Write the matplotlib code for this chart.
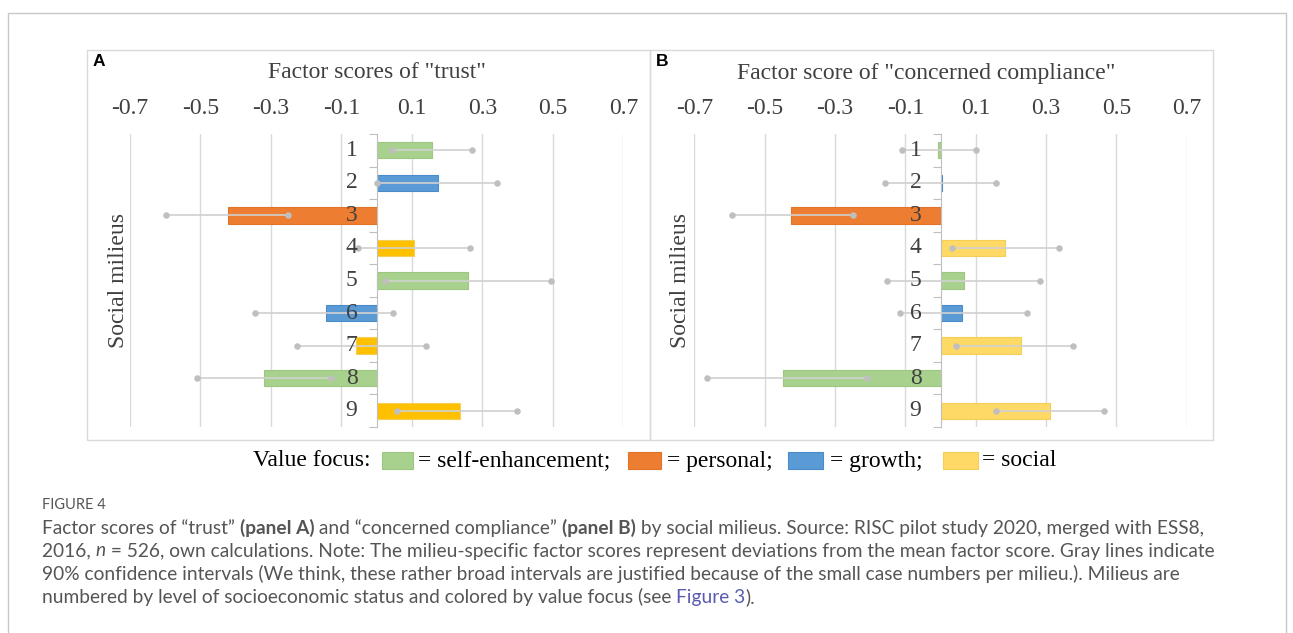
import numpy as np
import matplotlib.pyplot as plt
from matplotlib.patches import Rectangle
from matplotlib.lines import Line2D
from matplotlib.offsetbox import TextArea, HPacker, AnchoredOffsetbox

plt.rcParams['axes.unicode_minus'] = False

milieus = ['1', '2', '3', '4', '5', '6', '7', '8', '9']
focus = ['self', 'growth', 'personal', 'social', 'self', 'growth', 'social', 'self', 'social']

trust = [0.158, 0.175, -0.42, 0.106, 0.26, -0.142, -0.057, -0.318, 0.237]
trust_lo = [0.044, 0.002, -0.598, -0.054, 0.024, -0.344, -0.225, -0.509, 0.057]
trust_hi = [0.271, 0.343, -0.25, 0.266, 0.495, 0.046, 0.139, -0.13, 0.398]

compliance = [-0.006, 0.004, -0.426, 0.182, 0.068, 0.06, 0.23, -0.447, 0.311]
compliance_lo = [-0.11, -0.159, -0.592, 0.032, -0.152, -0.114, 0.045, -0.663, 0.157]
compliance_hi = [0.10, 0.157, -0.25, 0.336, 0.284, 0.245, 0.377, -0.21, 0.466]

xticks = [-0.7, -0.5, -0.3, -0.1, 0.1, 0.3, 0.5, 0.7]

colors_a = {'self': '#A9D18E', 'personal': '#ED7D31', 'growth': '#5B9BD5', 'social': '#FFC000'}
colors_b = {'self': '#A9D18E', 'personal': '#ED7D31', 'growth': '#5B9BD5', 'social': '#FFD966'}
edges = {'self': '#9CC77F', 'personal': '#E27429', 'growth': '#4A8BC9', 'social': '#F5CF55'}

legend_keys = ['self', 'personal', 'growth', 'social']
legend_labels = ['= self-enhancement;', '= personal;', '= growth;', '= social']

W, H = 1293, 633
SERIF = 'Liberation Serif'
TXT = '#404040'


def fx(px):
    return px / W


def fy(py):
    return 1 - py / H


fig = plt.figure(figsize=(W / 100, H / 100), dpi=100)

# outer frame and chart-area boxes
fig.add_artist(Line2D([fx(8), fx(8), fx(1286), fx(1286)], [0, fy(13), fy(13), 0],
                      transform=fig.transFigure, color='#C8C8C8', lw=1))
for x0, x1 in [(87, 650), (650, 1213)]:
    fig.add_artist(Rectangle((fx(x0), fy(440)), fx(x1) - fx(x0), fy(50) - fy(440),
                             transform=fig.transFigure, fill=False, ec='#D9D9D9', lw=1))


def panel(left_px, right_px, vals, lo, hi, cols):
    ax = fig.add_axes([fx(left_px), fy(427), fx(right_px) - fx(left_px), fy(134) - fy(427)])
    y = np.arange(len(milieus))
    ax.barh(y, vals, height=0.5, color=[cols[f] for f in focus],
            edgecolor=[edges[f] for f in focus], lw=0.8, zorder=2)
    ax.hlines(y, lo, hi, color='#D0D0D0', lw=1.2, zorder=3)
    ax.scatter(lo + hi, list(y) + list(y), s=22, color='#BFBFBF', zorder=4, lw=0)
    for yi, lab in zip(y, milieus):
        ax.annotate(lab, (0, yi), xytext=(-18, 0), textcoords='offset points',
                    ha='center', va='center', fontsize=17, family=SERIF, color=TXT, zorder=5)
    ax.set_xlim(-0.7, 0.7)
    ax.set_ylim(8.5, -0.5)
    ax.set_xticks(xticks)
    ax.set_xticklabels(['%.1f' % t for t in xticks])
    ax.xaxis.tick_top()
    ax.tick_params(axis='x', length=0, pad=11, labelsize=17, labelcolor=TXT)
    for lab in ax.get_xticklabels():
        lab.set_family(SERIF)
    ax.set_yticks(np.arange(-0.5, 9, 1))
    ax.set_yticklabels([])
    ax.tick_params(axis='y', length=6, color='#BFBFBF', direction='out')
    ax.xaxis.grid(True, color='#D9D9D9', lw=1)
    ax.set_axisbelow(True)
    for s in ['top', 'right', 'bottom']:
        ax.spines[s].set_visible(False)
    ax.spines['left'].set_position(('data', 0))
    ax.spines['left'].set_color('#BFBFBF')
    ax.spines['left'].set_zorder(2.5)
    return ax


panel(129.8, 623.3, trust, trust_lo, trust_hi, colors_a)
panel(694.4, 1186.7, compliance, compliance_lo, compliance_hi, colors_b)

fig.text(fx(377), fy(73), 'Factor scores of "trust"', ha='center', va='center',
         fontsize=17, family=SERIF, color=TXT)
fig.text(fx(926), fy(73), 'Factor score of "concerned compliance"', ha='center', va='center',
         fontsize=17, family=SERIF, color=TXT)
for xp in (118, 680):
    fig.text(fx(xp), fy(280), 'Social milieus', rotation=90, ha='center', va='center',
             fontsize=17, family=SERIF, color=TXT)
fig.text(fx(93), fy(62), 'A', ha='left', va='center', fontsize=12.5, fontweight='bold',
         family='Liberation Sans', color='black')
fig.text(fx(656), fy(62), 'B', ha='left', va='center', fontsize=12.5, fontweight='bold',
         family='Liberation Sans', color='black')

# legend row (hand-placed pieces, as in the original figure)
ly = fy(461)
fig.text(fx(253), ly, 'Value focus:', ha='left', va='center', fontsize=17, family=SERIF, color='black')
box_x = [(382, 413), (628, 661), (788, 823), (943, 978)]
text_x = [418, 667, 830, 982]
for key, label, (b0, b1), tx in zip(legend_keys, legend_labels, box_x, text_x):
    fig.add_artist(Rectangle((fx(b0), fy(469)), fx(b1) - fx(b0), fy(452) - fy(469),
                             transform=fig.transFigure, fc=colors_b[key], ec=edges[key], lw=0.8))
    fig.text(fx(tx), ly, label, ha='left', va='center', fontsize=17, family=SERIF, color='black')

# caption
CAP = 'Lato'
base = dict(fontsize=13.8, family=CAP, color='#555555')
bold = dict(base, fontweight='bold')
ital = dict(base, style='italic')
link = dict(base, color='#5A5AB0')
fig.text(fx(42), fy(505), 'FIGURE 4', ha='left', va='center', fontsize=10.5, family=CAP, color='#555555')
caption = [
    [('Factor scores of \u201ctrust\u201d ', base), ('(panel A)', bold),
     (' and \u201cconcerned compliance\u201d ', base), ('(panel B)', bold),
     (' by social milieus. Source: RISC pilot study 2020, merged with ESS8,', base)],
    [('2016, ', base), ('n', ital),
     (' = 526, own calculations. Note: The milieu-specific factor scores represent deviations from the mean factor score. Gray lines indicate', base)],
    [('90% confidence intervals (We think, these rather broad intervals are justified because of the small case numbers per milieu.). Milieus are', base)],
    [('numbered by level of socioeconomic status and colored by value focus (see ', base), ('Figure 3', link), (').', base)],
]
for i, line in enumerate(caption):
    hp = HPacker(children=[TextArea(t, textprops=p) for t, p in line], align='baseline', pad=0, sep=0)
    fig.add_artist(AnchoredOffsetbox(loc='center left', child=hp, bbox_to_anchor=(fx(42), fy(528 + 23 * i)),
                                     bbox_transform=fig.transFigure, frameon=False, pad=0, borderpad=0))

fig.savefig('out.png', dpi=100)
